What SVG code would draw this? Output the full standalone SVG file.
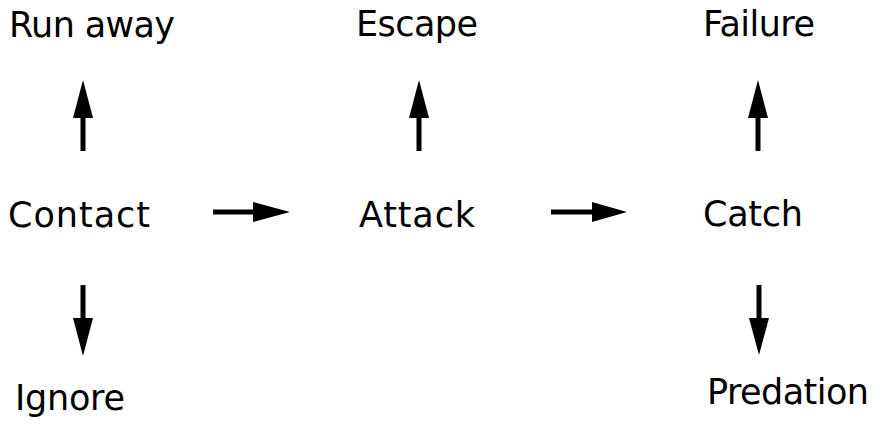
<svg xmlns="http://www.w3.org/2000/svg" width="880" height="425" viewBox="0 0 880 425">
<style>
text{font-family:"DejaVu Sans","Liberation Sans",sans-serif;font-size:35px;fill:#000}
.shaft{stroke:#000;stroke-width:5;fill:none}
.head{fill:#000;stroke:none}
</style>
<rect width="880" height="425" fill="#fff"/>
<g id="run-away"><text x="9" y="37" textLength="166">Run away</text></g>
<g id="escape"><text x="356" y="36" textLength="122">Escape</text></g>
<g id="failure"><text x="703" y="36" textLength="112">Failure</text></g>
<g id="contact"><text x="8" y="227" textLength="142">Contact</text></g>
<g id="attack"><text x="359" y="227" textLength="116">Attack</text></g>
<g id="catch"><text x="703" y="226" textLength="100">Catch</text></g>
<g id="ignore"><text x="15" y="410" textLength="110">Ignore</text></g>
<g id="predation"><text x="707" y="404" textLength="162">Predation</text></g>
<g id="connectors">
<line class="shaft" x1="83" y1="151" x2="83" y2="112"/><polygon class="head" points="83,80 73,118 93,118"/>
<line class="shaft" x1="419" y1="151" x2="419" y2="112"/><polygon class="head" points="419,80 409,118 429,118"/>
<line class="shaft" x1="758" y1="151" x2="758" y2="112"/><polygon class="head" points="758,80 748,118 768,118"/>
<line class="shaft" x1="83" y1="285" x2="83" y2="324"/><polygon class="head" points="83,356 73,318 93,318"/>
<line class="shaft" x1="759" y1="285" x2="759" y2="324"/><polygon class="head" points="759,355 749,318 769,318"/>
<line class="shaft" x1="213" y1="212" x2="258" y2="212"/><polygon class="head" points="290,212 253,202 253,222"/>
<line class="shaft" x1="551" y1="212" x2="597" y2="212"/><polygon class="head" points="627,212 592,202 592,222"/>
</g>
</svg>
